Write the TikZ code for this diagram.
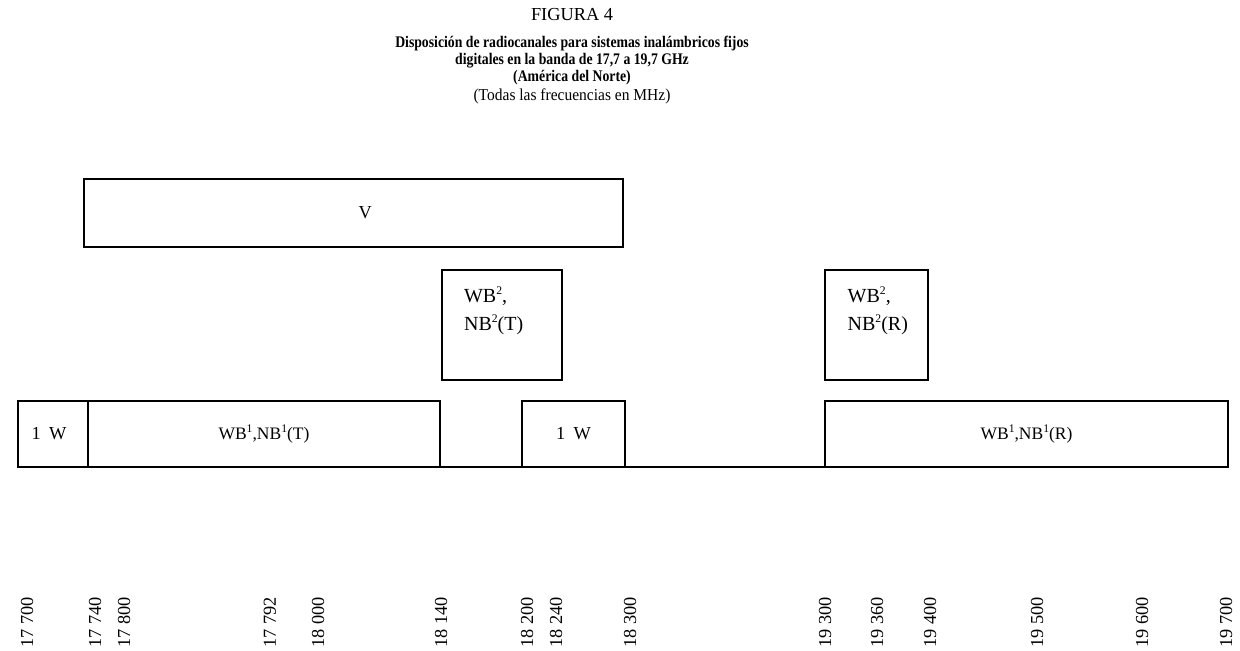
\documentclass[tikz,border=0pt]{standalone}
\usepackage{fontspec}
\usepackage{graphicx}
\setmainfont{Liberation Serif}
\usetikzlibrary{fit}
\newcommand\hsup[1]{\raisebox{0.9ex}{\fontsize{7}{8}\selectfont #1}}
\newcommand\cond[1]{\scalebox{0.85}[1]{#1}}
\begin{document}
\begin{tikzpicture}[x=0.6pt,y=-0.6pt,
  every node/.style={font=\fontsize{11}{13}\selectfont},
  band/.style={draw, line width=0.9pt, inner sep=0pt, outer sep=0pt},
  txt/.style={inner sep=0pt},
  big/.style={inner sep=0pt, align=left, font=\fontsize{12}{16.8}\selectfont},
  wide/.style={inner sep=0pt, font=\fontsize{10.5}{12}\selectfont},
  freq/.style={rotate=90, anchor=west, inner sep=0pt, font=\fontsize{11}{13}\selectfont},
  ttl/.style={inner sep=0pt, align=center}]
\useasboundingbox (0,0) rectangle (1240,650);
% titles
\node[ttl] (fig) at (572,15) {FIGURA 4};
\node[ttl, font=\bfseries\fontsize{9.7}{10.2}\selectfont] (title) at (572,61)
  {\cond{Disposición de radiocanales para sistemas inalámbricos fijos}\\
   \cond{digitales en la banda de 17,7 a 19,7 GHz}\\
   \cond{(América del Norte)}};
\node[ttl, font=\fontsize{10}{11}\selectfont] (sub) at (572,96) {\scalebox{0.93}[1]{(Todas las frecuencias en MHz)}};
% upper boxes
\node[band, fit={(84,179) (623,247)}] (v) {};
\node[txt] (vt) at ([xshift=7pt]v.center) {V};
\node[band, fit={(442,270) (562,380)}] (t2) {};
\node[big] (t2t) at ([xshift=-5pt, yshift=8.4pt]t2.center) {WB\hsup{2},\\NB\hsup{2}(T)};
\node[band, fit={(825,270) (928,380)}] (r2) {};
\node[big] (r2t) at ([xshift=0.8pt, yshift=8.4pt]r2.center) {WB\hsup{2},\\NB\hsup{2}(R)};
% lower boxes
\node[band, fit={(18,401) (88,467)}] (w1a) {};
\node[txt] (w1at) at ([xshift=-2.4pt]w1a.center) {1\hspace{0.45em}W};
\node[band, fit={(88,401) (440,467)}] (wbt) {};
\node[wide] (wbtt) at (wbt.center) {WB\hsup{1},NB\hsup{1}(T)};
\node[band, fit={(522,401) (625,467)}] (w1b) {};
\node[txt] (w1bt) at (w1b.center) {1\hspace{0.45em}W};
\node[band, fit={(825,401) (1228,467)}] (wbr) {};
\node[wide] (wbrt) at (wbr.center) {WB\hsup{1},NB\hsup{1}(R)};
\draw[line width=0.9pt] (wbt.south east) -- (w1b.south west);
\draw[line width=0.9pt] (w1b.south east) -- (wbr.south west);
% frequency labels
\foreach \x/\f [count=\i] in {27/17 700, 95/17 740, 124/17 800, 270/17 792, 318/18 000,
   441/18 140, 527/18 200, 556/18 240, 630/18 300, 825/19 300, 877/19 360,
   930/19 400, 1037/19 500, 1142/19 600, 1226/19 700}
  \node[freq] (f\i) at (\x,648) {\f};
\end{tikzpicture}
\end{document}
